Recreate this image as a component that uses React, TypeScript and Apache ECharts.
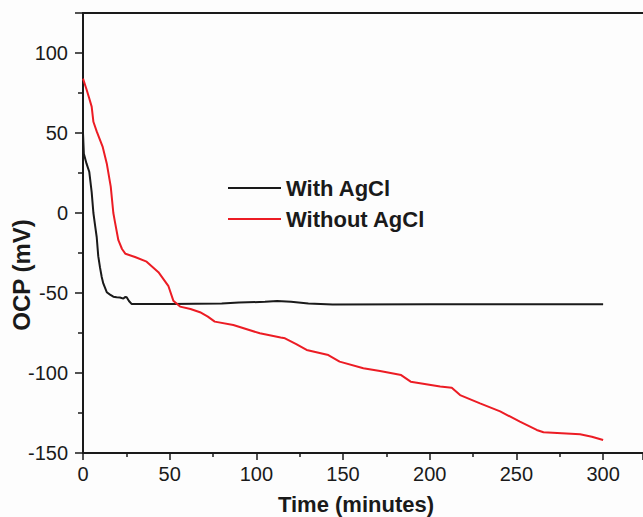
import React, { useEffect, useRef } from "react";
import * as echarts from "echarts";

const xTicks = [0, 50, 100, 150, 200, 250, 300];
const yTicks = [-150, -100, -50, 0, 50, 100];

const seriesNames = ["With AgCl", "Without AgCl"];

const timeWith = [0, 0.5, 2, 3.6, 5, 6, 7, 7.9, 8.8, 9.8, 10.8, 11.7, 13.7, 15.6, 17.5, 19.4, 21.3, 23.3, 24.3, 25.2, 26.5, 28, 50, 80, 90, 105, 112, 120, 130, 144, 200, 250, 300];
const ocpWith = [50, 37, 31, 25.8, 13, 0, -8, -15, -27, -34, -40, -44, -49.5, -51, -52.3, -52.7, -52.8, -53.5, -52.5, -52.7, -55, -56.8, -56.8, -56.6, -56, -55.5, -55, -55.5, -56.5, -57.2, -57, -57, -57];

const timeWithout = [0, 2.1, 3.5, 5, 6, 7.9, 11.3, 13.7, 16, 17.5, 18.5, 20.4, 22.5, 24.5, 30, 36.7, 43.5, 49.2, 52.1, 56, 62, 67.5, 72, 76, 86.7, 102, 114, 116.5, 123, 129, 141.5, 148, 161.7, 171.3, 183.5, 189, 206, 212.7, 217.5, 229, 240.6, 252, 261.7, 265.6, 286.7, 293.5, 300];
const ocpWithout = [84, 77, 72, 66.5, 57, 51, 41.5, 31, 16.5, 0, -6, -17, -22.5, -25.5, -27.5, -30.4, -37, -45.5, -54.8, -58.5, -60, -62, -64.8, -67.9, -70, -75.2, -77.8, -78.3, -81.9, -85.6, -88.8, -92.9, -97, -98.8, -101.3, -105.4, -108.5, -109.2, -113.8, -119, -124, -130.4, -135.6, -137, -138.3, -139.8, -141.9];

const FONT = "Arial, 'Liberation Sans', sans-serif";
const INK = "#1a1a1a";
const RED = "#ec1c24";

export default function App() {
  const ref = useRef<HTMLDivElement>(null);
  useEffect(() => {
    if (!ref.current) return;
    const chart = echarts.init(ref.current, null, { renderer: "svg" });
    const axisLine = { show: true, onZero: false, lineStyle: { color: INK, width: 2 } };
    chart.setOption({
      animation: false,
      backgroundColor: "#fdfdfd",
      grid: { left: 83, top: 13, right: 0, bottom: 64, containLabel: false, outerBoundsMode: "none" },
      legend: {
        orient: "vertical",
        left: 228,
        top: 177,
        padding: 0,
        icon: "rect",
        itemWidth: 53,
        itemHeight: 2,
        itemGap: 9,
        data: seriesNames,
        textStyle: { fontSize: 22, fontWeight: "bold", fontFamily: FONT, color: INK, lineHeight: 22 },
      },
      xAxis: [
        {
          type: "value",
          min: 0,
          max: 323,
          interval: 50,
          axisLine,
          axisTick: { show: true, inside: false, length: 7, lineStyle: { width: 1.5, color: INK } },
          minorTick: { show: true, splitNumber: 2, length: 4, lineStyle: { width: 1.5, color: INK } },
          splitLine: { show: false },
          axisLabel: {
            margin: 11,
            fontSize: 20,
            fontFamily: FONT,
            color: INK,
            showMaxLabel: false,
            formatter: (v: number) => (xTicks.includes(v) ? String(v) : ""),
          },
          name: "Time (minutes)",
          nameLocation: "middle",
          nameGap: 40,
          nameMoveOverlap: false,
          nameTextStyle: { fontSize: 22, fontWeight: "bold", fontFamily: FONT, color: INK, padding: [0, 14, 0, 0] },
        },
        {
          type: "value",
          position: "top",
          min: 0,
          max: 323,
          axisLine,
          axisTick: { show: false },
          axisLabel: { show: false },
          splitLine: { show: false },
        },
      ],
      yAxis: {
        type: "value",
        min: -150,
        max: 125,
        interval: 50,
        axisLine,
        axisTick: { show: true, inside: false, length: 8, lineStyle: { width: 1.5, color: INK } },
        minorTick: { show: true, splitNumber: 2, length: 5, lineStyle: { width: 1.5, color: INK } },
        splitLine: { show: false },
        axisLabel: {
          margin: 15,
          fontSize: 20,
          fontFamily: FONT,
          color: INK,
          showMaxLabel: false,
          formatter: (v: number) => (yTicks.includes(v) ? String(v) : ""),
        },
        name: "OCP (mV)",
        nameLocation: "middle",
        nameGap: 50,
        nameMoveOverlap: false,
        nameTextStyle: { fontSize: 24, fontWeight: "bold", fontFamily: FONT, color: INK, padding: [0, 84, 0, 0] },
      },
      series: [
        {
          name: seriesNames[0],
          type: "line",
          symbol: "none",
          showSymbol: false,
          data: timeWith.map((t, i) => [t, ocpWith[i]]),
          lineStyle: { color: INK, width: 2 },
          itemStyle: { color: INK },
        },
        {
          name: seriesNames[1],
          type: "line",
          symbol: "none",
          showSymbol: false,
          data: timeWithout.map((t, i) => [t, ocpWithout[i]]),
          lineStyle: { color: RED, width: 2 },
          itemStyle: { color: RED },
        },
      ],
    });
    return () => chart.dispose();
  }, []);
  return <div ref={ref} style={{ position: "fixed", left: 0, top: 0, width: 643, height: 517 }} />;
}
